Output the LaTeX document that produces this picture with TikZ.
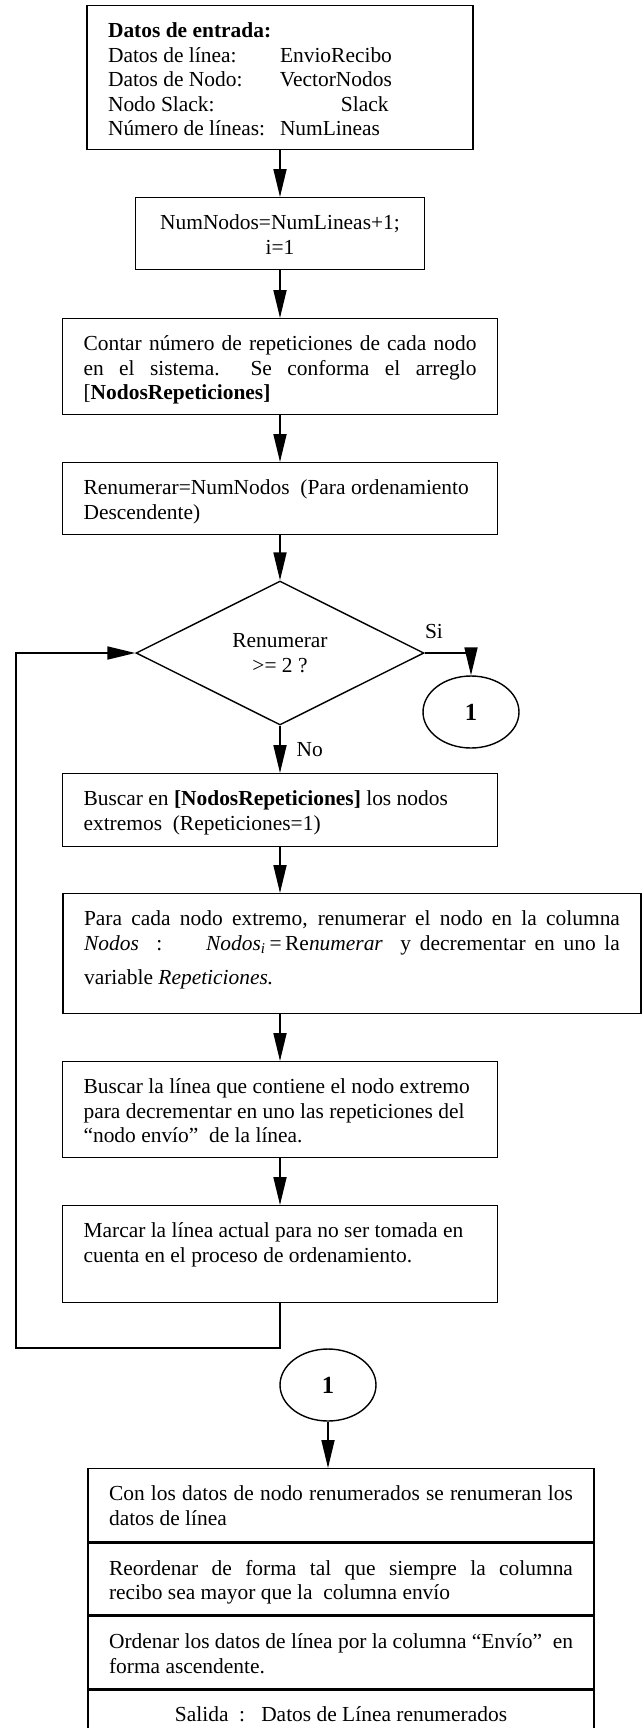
\documentclass[tikz,border=0pt]{standalone}
\usepackage{fontspec}
\setmainfont{Liberation Serif}
\usepackage{tikz}
\usetikzlibrary{arrows.meta, shapes.geometric}

\begin{document}
\begin{tikzpicture}[x=0.02cm, y=-0.02cm, >={Triangle[length=0.56cm, width=0.26cm]},
    font=\fontsize{12.2}{13.9}\selectfont,
    caja/.style={draw, line width=0.8pt, inner xsep=0.42cm, inner ysep=0.3cm, anchor=north},
    decision/.style={diamond, draw, line width=0.8pt, inner sep=0pt, minimum width=5.76cm, minimum height=2.88cm, align=center},
    conector/.style={ellipse, draw, line width=0.8pt, minimum width=1.92cm, minimum height=1.44cm, font=\fontsize{14}{16}\selectfont\bfseries},
    flecha/.style={->, line width=1pt}]

    \useasboundingbox (0,0) rectangle (643,1728);

    % 1. Datos de entrada
    \node[caja] (b1) at (280,5) {\parbox[c][2.28cm][t]{6.88cm}{\strut\textbf{Datos de entrada:}\\
      \makebox[3.44cm][l]{Datos de línea:}EnvioRecibo\\
      \makebox[3.44cm][l]{Datos de Nodo:}VectorNodos\\
      \makebox[3.44cm][l]{Nodo Slack:}\hspace{1.22cm}Slack\\
      \makebox[3.44cm][l]{Número de líneas:}NumLineas}};

    % 2. Inicio
    \node[caja] (b2) at (280,197) {\parbox[c][0.84cm][t]{4.94cm}{\centering\strut NumNodos=NumLineas+1;\\ i=1}};

    % 3. Contar repeticiones
    \node[caja] (b3) at (280,318) {\parbox[c][1.32cm][t]{7.86cm}{\strut Contar número de repeticiones de cada nodo\linebreak
      en el sistema.\ \ Se conforma el arreglo\linebreak {[}\textbf{NodosRepeticiones]}}};

    \node[caja] (b4) at (280,462) {\parbox[c][0.84cm][t]{7.86cm}{\strut Renumerar=NumNodos\ \ (Para ordenamiento\\ Descendente)}};

    % 4. Decision
    \node[decision] (dec) at (280,653) {Renumerar\\>= 2 ?};
    \node[conector] (c1) at (471,712) {1};

    % 5. Ciclo de renumeracion
    \node[caja] (b5) at (280,773) {\parbox[c][0.86cm][t]{7.86cm}{\strut Buscar en \textbf{[NodosRepeticiones]} los nodos\\ extremos\ \ (Repeticiones=1)}};

    \node[caja] (b6) at (352,893) {\parbox[c][1.8cm][t]{10.72cm}{\strut Para cada nodo extremo, renumerar el nodo en la columna\linebreak
      \textit{Nodos}\ \ :\ \ \ \ \ \textit{Nodos}\textsubscript{\textit{i}}\,=\,Re\textit{numerar}\ \ y decrementar en uno la\vadjust{\vskip0.2cm}\linebreak
      variable \textit{Repeticiones.}}};

    \node[caja] (b7) at (280,1061) {\parbox[c][1.32cm][t]{7.86cm}{\strut Buscar la línea que contiene el nodo extremo\\
      para decrementar en uno las repeticiones del\\ “nodo envío”\ \ de la línea.}};

    \node[caja] (b8) at (280,1205) {\parbox[c][1.34cm][t]{7.86cm}{\strut Marcar la línea actual para no ser tomada en\\
      cuenta en el proceso de ordenamiento.}};

    % 6. Salida
    \node[conector] (c2) at (328,1385) {1};

    \node[caja] (s1) at (341,1468) {\parbox[c][0.86cm][t]{9.28cm}{\strut Con los datos de nodo renumerados se renumeran los\linebreak datos de línea}};
    \node[caja] (s2) at (s1.south) {\parbox[c][0.84cm][t]{9.28cm}{\strut Reordenar de forma tal que siempre la columna\linebreak
      recibo sea mayor que la\ \ columna envío}};
    \node[caja] (s3) at (s2.south) {\parbox[c][0.84cm][t]{9.28cm}{\strut Ordenar los datos de línea por la columna “Envío”\ \ en\linebreak
      forma ascendente.}};
    \node[caja] (s4) at (s3.south) {\parbox[c][0.34cm][t]{9.28cm}{\centering\strut Salida\ \ :\ \ \ Datos de Línea renumerados}};

    % flechas
    \draw[flecha] (b1) -- (b2);
    \draw[flecha] (b2) -- (b3);
    \draw[flecha] (b3) -- (b4);
    \draw[flecha] (b4) -- (dec);
    \draw[flecha] (dec) -- node[right=0.2cm] {No} (b5);
    \draw[flecha] (b5) -- (b5 |- b6.north);
    \draw[flecha] (b7 |- b6.south) -- (b7);
    \draw[flecha] (b7) -- (b8);
    \draw[flecha] (dec.east) -| node[pos=0.1, above=0.15cm] {Si} (c1);
    \coordinate (esq) at (16,1348);
    \draw[flecha] (b8.south) |- (esq) |- (dec.west);
    \draw[flecha] (c2) -- (c2 |- s1.north);

\end{tikzpicture}
\end{document}
